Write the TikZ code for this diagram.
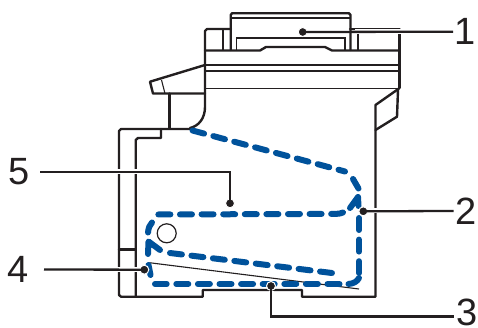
\documentclass[tikz,border=0pt]{standalone}
\usepackage{fontspec}
\setmainfont{Liberation Sans}
\definecolor{bk}{HTML}{231F20}
\definecolor{bl}{HTML}{00529B}
\tikzset{
 x=1pt,y=-1pt,
 body/.style={draw=bk,line width=2.4pt,line join=round,line cap=round},
 thin1/.style={draw=bk,line width=1.1pt},
 leader/.style={draw=bk,line width=2.3pt},
 halo/.style={draw=white,line width=5pt},
 dot/.style={circle,fill=bk,draw=white,line width=1pt,inner sep=0pt,minimum size=9pt},
 num/.style={font=\fontsize{38}{38}\selectfont,text=bk,inner sep=0pt},
 flow/.style={draw=bl,line width=6pt,line cap=round,dash pattern=on 12pt off 9.6pt},
 flowsolid/.style={draw=bl,line width=6pt,line cap=round,line join=round},
}
\begin{document}
\begin{tikzpicture}
\useasboundingbox (0,0) rectangle (478,328);
\fill[white] (0,0) rectangle (478,328);
% scanner
\draw[body] (230.7,50) -- (230.7,15) -- (232,13.3) -- (349,13.3) -- (350.5,15) -- (350.5,50);
\draw[thin1] (231,18) -- (350,18);
\draw[body] (231,29) -- (207,29) -- (205,31) -- (205,107) .. controls (205,118) and (199,126) .. (190,128);
\draw[body] (350,29) -- (399.5,29) -- (399.5,88);
\draw[thin1] (223,29) -- (223,50) (358,29) -- (358,50);
\draw[thin1] (236.7,50) -- (236.7,38) -- (345,38) -- (345,50);
\draw[body] (205,50.5) -- (260,50.5) -- (266,47) -- (325,47) -- (332,50.5) -- (399.5,50.5);
\draw[body] (205,65) -- (399.5,65);
\draw[thin1] (205,71) -- (399.5,71);
\draw[thin1] (205,88.5) -- (399.5,88.5);
% document tray
\draw[body] (205,65) -- (150,81.7) -- (153,93.5) -- (205,93.5);
\draw[thin1] (161.5,80) -- (165,93.5);
\draw[body] (169.5,93.5) -- (169.5,128);
% right flap
\draw[body] (399,88.5) -- (375.5,105) -- (375.5,296.7) -- (302,296.7) -- (302,290) -- (202.7,290) -- (202.7,296.7) -- (121,296.7) -- (119,295) -- (119,131) -- (121,129) -- (190,129);
\draw[body] (398,90) -- (397,116.7) -- (375.5,130);
% left inner
\draw[body] (161,129) -- (161,138) -- (138,138) -- (135.7,140) -- (135.7,296.7);
\draw[body] (119,249.3) -- (135.7,249.3);
\draw[draw=bk,line width=1.2pt] (166.7,233.3) circle (9.5);
% thin sheet line
\draw[thin1] (149.3,262.7) -- (359,289);
% flow
\draw[flow] (192.5,130.5) -- (345,171.5);
\draw[flowsolid] (353,179) -- (358.5,188.5);
\draw[flow] (343,212.5) .. controls (341.5,213.3) and (339,213.8) .. (336,213.9) -- (155,214.5);
\draw[flowsolid] (350,208) -- (358,197) -- (358.5,206);
\draw[flowsolid] (152,222.5) .. controls (149.5,225) and (148.5,228) .. (148,232.5);
\draw[flowsolid] (148,254) -- (148.5,241.5) -- (160,250);
\draw[flow] (170,253) -- (340,274);
\draw[flow] (359,218) -- (359,273);
\draw[flowsolid] (359,278) .. controls (357,281.5) and (354,283.5) .. (348.5,284);
\draw[flow] (339.5,284) -- (155,284);
\draw[flowsolid] (150.5,275) -- (148.5,265);
% leaders
\coordinate (t1) at (453,31.7); \coordinate (t2) at (453.5,211); \coordinate (t4) at (44,269.5); \coordinate (t5) at (40,172); \coordinate (t3) at (453.5,316.5);
\node[dot] (d1) at (302.7,32) {};
\node[dot] (d2) at (363.3,211.3) {};
\node[dot] (d3) at (271,286) {};
\node[dot] (d4) at (144.3,269.7) {};
\node[dot] (d5) at (230,203.3) {};
\draw[halo] (355,31.7) -- (410,31.7);
\draw[leader] (d1.center) -- (t1);
\draw[halo] (370,211) -- (381,211);
\draw[leader] (d2.center) -- (t2);
\draw[halo] (271,291) -- (271,300);
\draw[leader] (d3.center) -- (271,316.5) -- (t3);
\draw[halo] (114,269.5) -- (141,269.5);
\draw[leader] (t4) -- (d4.center);
\draw[halo] (114,172) -- (141,172);
\draw[leader] (t5) -- (230,172) -- (d5.center);
\node[num] (n1) at (465,31) {1};
\node[num] (n2) at (466.5,211) {2};
\node[num] (n3) at (467,312.5) {3};
\node[num] (n4) at (18,269) {4};
\node[num] (n5) at (19,172) {5};
\end{tikzpicture}
\end{document}
